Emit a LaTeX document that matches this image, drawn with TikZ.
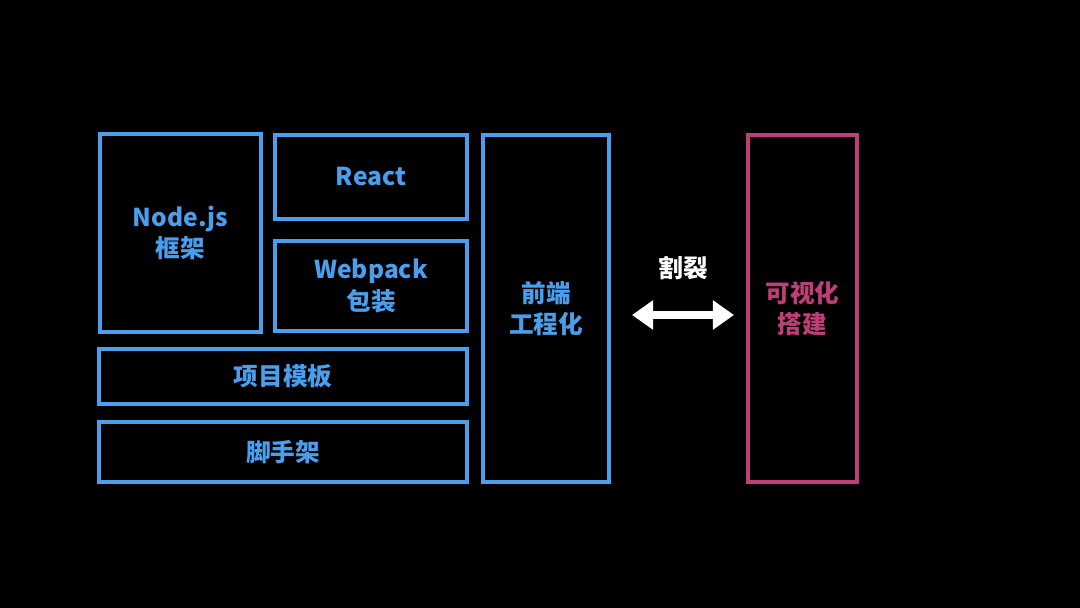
\documentclass[tikz,border=0pt]{standalone}
\usepackage{fontspec}
\setmainfont{Noto Sans CJK SC}
\usetikzlibrary{arrows.meta}
\definecolor{stackblue}{RGB}{74,158,236}
\definecolor{vispink}{RGB}{192,62,120}
\tikzset{
  box/.style={draw=stackblue,line width=2.3pt,inner sep=0pt,outer sep=0pt,
    text=stackblue,align=center,font=\bfseries\fontsize{14}{17.8}\selectfont},
  visbox/.style={box,draw=vispink,text=vispink},
  split/.style={white,line width=4.4pt,{Triangle[length=12pt,width=16pt]}-{Triangle[length=12pt,width=16pt]}}
}
\begin{document}
\begin{tikzpicture}[x=0.02cm,y=-0.02cm]
\fill[black] (0,0) rectangle (1080,608);
\useasboundingbox (0,0) rectangle (1080,608);
\node[box,minimum width=3.22cm,minimum height=3.96cm] (node) at (180.5,233) {Node.js\\框架};
\node[box,minimum width=3.84cm,minimum height=1.68cm] (react) at (371,177) {React};
\node[box,minimum width=3.84cm,minimum height=1.80cm] (webpack) at (371,286) {Webpack\\包装};
\node[box,minimum width=7.36cm,minimum height=1.10cm] (tmpl) at (283,376.5) {项目模板};
\node[box,minimum width=7.36cm,minimum height=1.20cm] (cli) at (283,452) {脚手架};
\node[box,minimum width=2.52cm,minimum height=6.94cm] (fe) at (546,308.5) {前端\\工程化};
\node[visbox,minimum width=2.18cm,minimum height=6.94cm] (vis) at (802.5,308.5) {可视化\\搭建};
\draw[split] ([xshift=0.46cm,yshift=-0.13cm]fe.east) -- node[above=0.5cm,text=white,font=\bfseries\fontsize{14}{17.8}\selectfont] {割裂} ([xshift=-0.28cm,yshift=-0.13cm]vis.west);
\end{tikzpicture}
\end{document}
